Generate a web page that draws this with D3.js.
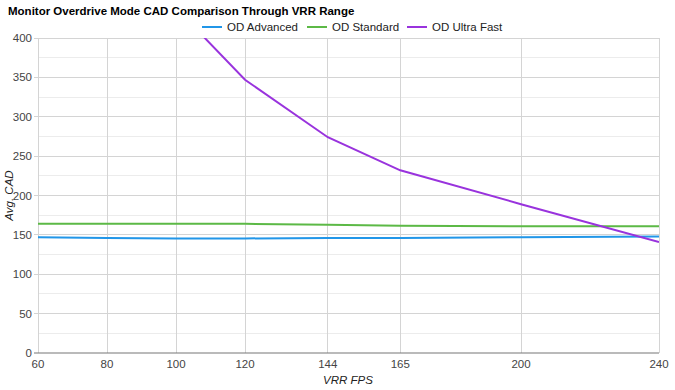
<!DOCTYPE html>
<html><head><meta charset="utf-8">
<script src="https://cdn.jsdelivr.net/npm/d3@7"></script>
<style>body{margin:0;background:#fff}svg{display:block;font-family:Arial,"Liberation Sans",sans-serif}</style>
</head><body><svg id="c" width="675" height="390"></svg>
<script>
const fps = [60, 80, 100, 120, 144, 165, 200, 240];
const odAdvanced = [147, 146, 145.5, 145.5, 146, 146, 147, 148];
const odStandard = [164, 164, 164, 164, 163, 161.5, 161, 161];
const odUltraFast = [650, 520, 438, 347, 274, 232, 189, 141];
const yTicks = [0, 50, 100, 150, 200, 250, 300, 350, 400];
const seriesNames = ["OD Advanced", "OD Standard", "OD Ultra Fast"];
const seriesColors = ["#2196e8", "#5cb946", "#9933dd"];
const seriesValues = [odAdvanced, odStandard, odUltraFast];

const svg = d3.select("#c");
const L = 38, R = 659, T = 38, B = 353;
const x = d3.scaleLinear().domain([60, 240]).range([L, R]);
const y = d3.scaleLinear().domain([0, 400]).range([B, T]);

// minor gridlines
const minor = d3.range(25, 400, 50);
svg.append("g").selectAll("line").data(minor).join("line")
  .attr("x1", L).attr("x2", R).attr("y1", d => y(d)).attr("y2", d => y(d))
  .attr("stroke", "#ececec").attr("stroke-width", 1).attr("shape-rendering", "crispEdges");
// major horizontal
svg.append("g").selectAll("line").data(yTicks.filter(d => d > 0)).join("line")
  .attr("x1", L - 4).attr("x2", R).attr("y1", d => y(d)).attr("y2", d => y(d))
  .attr("stroke", "#d4d4d4").attr("stroke-width", 1).attr("shape-rendering", "crispEdges");
// vertical
svg.append("g").selectAll("line").data(fps).join("line")
  .attr("x1", d => x(d)).attr("x2", d => x(d)).attr("y1", T).attr("y2", B)
  .attr("stroke", "#d4d4d4").attr("stroke-width", 1).attr("shape-rendering", "crispEdges");
// baseline
svg.append("line").attr("x1", L - 4).attr("x2", R).attr("y1", y(0)).attr("y2", y(0))
  .attr("stroke", "#777").attr("stroke-width", 1.2);

// y labels
svg.append("g").selectAll("text").data(yTicks).join("text")
  .attr("x", 32).attr("y", d => y(d) + 4).attr("text-anchor", "end")
  .attr("font-size", 11.5).attr("fill", "#444").text(d => d);
// x labels
svg.append("g").selectAll("text").data(fps).join("text")
  .attr("x", d => x(d)).attr("y", 368).attr("text-anchor", "middle")
  .attr("font-size", 11.5).attr("fill", "#444").text(d => d);

// clip
svg.append("clipPath").attr("id", "clip").append("rect")
  .attr("x", L).attr("y", T).attr("width", R - L).attr("height", B - T);

const line = d3.line().x((d, i) => x(fps[i])).y(d => y(d));
seriesValues.forEach((vals, k) => {
  svg.append("path").datum(vals).attr("d", line).attr("fill", "none")
    .attr("stroke", seriesColors[k]).attr("stroke-width", 2)
    .attr("clip-path", "url(#clip)");
});

// title
svg.append("text").attr("x", 8).attr("y", 15).attr("font-size", 11.5).attr("font-weight", "bold")
  .attr("fill", "#000").text("Monitor Overdrive Mode CAD Comparison Through VRR Range");

// legend
const legX = [202, 307, 407];
seriesNames.forEach((n, k) => {
  svg.append("line").attr("x1", legX[k]).attr("x2", legX[k] + 20).attr("y1", 27).attr("y2", 27)
    .attr("stroke", seriesColors[k]).attr("stroke-width", 2);
  svg.append("text").attr("x", legX[k] + 25).attr("y", 31).attr("font-size", 11.5)
    .attr("fill", "#222").text(n);
});

// axis titles
svg.append("text").attr("x", 348).attr("y", 384).attr("text-anchor", "middle")
  .attr("font-size", 11.5).attr("font-style", "italic").attr("fill", "#222").text("VRR FPS");
svg.append("text").attr("transform", `translate(13,${(T + B) / 2}) rotate(-90)`)
  .attr("text-anchor", "middle").attr("font-size", 11.5).attr("font-style", "italic")
  .attr("fill", "#222").text("Avg. CAD");
</script></body></html>
